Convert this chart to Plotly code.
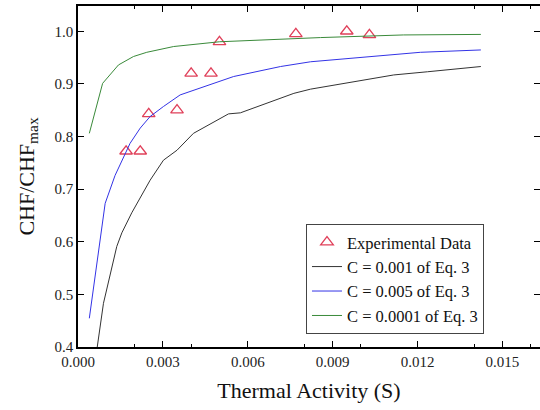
import plotly.graph_objects as go

# Experimental data
exp_x = [0.0017, 0.0022, 0.0025, 0.0035, 0.0040, 0.0047, 0.0050, 0.0077, 0.0095, 0.0103]
exp_y = [0.772, 0.772, 0.843, 0.850, 0.920, 0.920, 0.980, 0.995, 1.000, 0.993]

# C = 0.001
c1_x = [0.00068, 0.0009, 0.00137, 0.00155, 0.0019, 0.00255, 0.00302, 0.0035, 0.00408, 0.00479, 0.00532, 0.00574, 0.00716, 0.00763, 0.00822, 0.01116, 0.01235, 0.01424]
c1_y = [0.400, 0.483, 0.591, 0.617, 0.655, 0.717, 0.755, 0.774, 0.806, 0.828, 0.843, 0.845, 0.873, 0.882, 0.890, 0.917, 0.923, 0.933]

# C = 0.005
c2_x = [0.0004, 0.0006, 0.00087, 0.00096, 0.00131, 0.00155, 0.00184, 0.0022, 0.00255, 0.00302, 0.00361, 0.0055, 0.00716, 0.00822, 0.0121, 0.01424]
c2_y = [0.4545, 0.534, 0.645, 0.673, 0.726, 0.755, 0.787, 0.816, 0.838, 0.857, 0.879, 0.914, 0.933, 0.942, 0.960, 0.9645]

# C = 0.0001
c3_x = [0.0004, 0.00087, 0.00143, 0.00196, 0.00243, 0.00338, 0.0050, 0.00644, 0.00857, 0.0115, 0.01424]
c3_y = [0.806, 0.901, 0.936, 0.952, 0.960, 0.971, 0.980, 0.9835, 0.988, 0.993, 0.994]

x_ticks = [0.000, 0.003, 0.006, 0.009, 0.012, 0.015]
x_tick_labels = ["0.000", "0.003", "0.006", "0.009", "0.012", "0.015"]
y_ticks = [0.4, 0.5, 0.6, 0.7, 0.8, 0.9, 1.0]
y_tick_labels = ["0.4", "0.5", "0.6", "0.7", "0.8", "0.9", "1.0"]

fam = "Liberation Serif, Times New Roman, serif"

fig = go.Figure()
fig.add_trace(go.Scatter(x=exp_x, y=exp_y, mode="markers", name="Experimental Data",
                         marker=dict(symbol="triangle-up-open", size=11, color="#e0405a",
                                     line=dict(width=1.3, color="#e0405a"))))
fig.add_trace(go.Scatter(x=c1_x, y=c1_y, mode="lines", name="C = 0.001 of Eq. 3",
                         line=dict(color="#333333", width=1)))
fig.add_trace(go.Scatter(x=c2_x, y=c2_y, mode="lines", name="C = 0.005 of Eq. 3",
                         line=dict(color="#3333e6", width=1)))
fig.add_trace(go.Scatter(x=c3_x, y=c3_y, mode="lines", name="C = 0.0001 of Eq. 3",
                         line=dict(color="#3a8a3a", width=1)))

axis_common = dict(showline=True, linecolor="black", linewidth=1.5, mirror="ticks",
                   ticks="inside", ticklen=6, tickcolor="black", tickwidth=1.2,
                   showgrid=False, zeroline=False, automargin=False,
                   tickfont=dict(family=fam, size=15, color="#222"),
                   minor=dict(ticks="inside", ticklen=3, tickcolor="black", nticks=2))

fig.update_xaxes(range=[0, 0.01633], tickvals=x_ticks, ticktext=x_tick_labels,
                 title=dict(text="Thermal Activity (S)", font=dict(family=fam, size=22, color="#111"), standoff=14),
                 **axis_common)
fig.update_yaxes(range=[0.4, 1.048], tickvals=y_ticks, ticktext=y_tick_labels,
                 title=dict(text="CHF/CHF<sub>max</sub>", font=dict(family=fam, size=22, color="#111"), standoff=14),
                 **axis_common)

fig.update_layout(
    width=540, height=410,
    margin=dict(l=78, r=0, t=6, b=63),
    plot_bgcolor="white", paper_bgcolor="white",
    font=dict(family=fam, color="#111"),
    legend=dict(x=0.4935, y=0.361, xanchor="left", yanchor="top",
                bordercolor="#444", borderwidth=1, bgcolor="white",
                font=dict(family=fam, size=16.5, color="#111"),
                tracegroupgap=0, itemwidth=30),
    showlegend=True,
)

fig.write_html("out.html", config={"displayModeBar": False},
               post_script="document.body.style.margin='0';")
